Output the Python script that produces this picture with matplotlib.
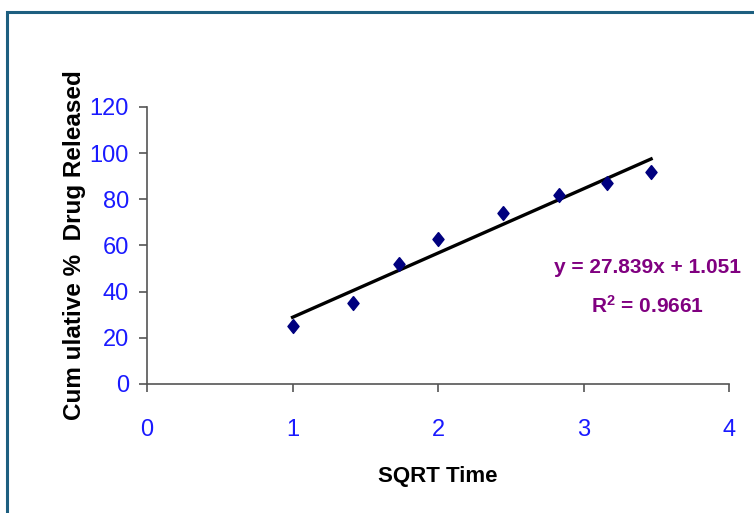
import numpy as np
import matplotlib.pyplot as plt
from matplotlib.patches import Rectangle

# square root of sampling time (h^0.5) and cumulative release (%)
sqrt_time = [1.0, 1.414, 1.732, 2.0, 2.449, 2.828, 3.162, 3.464]
released = [25, 35, 52, 63, 74, 82, 87, 92]

# linear trendline as reported
slope = 27.839
intercept = 1.051
r_squared = 0.9661

x_ticks = [0, 1, 2, 3, 4]
y_ticks = [0, 20, 40, 60, 80, 100, 120]

narrow = ['Liberation Sans Narrow', 'Liberation Sans', 'DejaVu Sans']

fig = plt.figure(figsize=(7.54, 5.13), dpi=100)
ax = fig.add_axes([0.195, 0.2515, 0.772, 0.54])

# outer chart frame (top and left edges visible)
fig.patches.append(Rectangle((7 / 754, -0.2), 1.2, 1.2 - 12 / 513,
                             transform=fig.transFigure, fill=False,
                             edgecolor='#1d5f80', linewidth=2.2))

diamond = [(0, 1), (0.8, 0), (0, -1), (-0.8, 0), (0, 1)]
ax.plot(sqrt_time, released, linestyle='none', marker=diamond,
        markersize=10, color='#00007f', zorder=3)

xfit = np.array([sqrt_time[0], sqrt_time[-1]])
ax.plot(xfit, slope * xfit + intercept, color='black', linewidth=2.4, zorder=2)

ax.set_xlim(0, 4)
ax.set_ylim(0, 120)
ax.set_xticks(x_ticks)
ax.set_yticks(y_ticks)
ax.set_xticklabels([str(t) for t in x_ticks], family=narrow, fontsize=17, color='#1a1aff')
ax.set_yticklabels([str(t) for t in y_ticks], family=narrow, fontsize=17, color='#1a1aff')
ax.tick_params(axis='x', direction='out', length=6, width=1.2, color='#555555', pad=19)
ax.tick_params(axis='y', direction='out', length=6, width=1.2, color='#555555', pad=7)

for side in ['top', 'right']:
    ax.spines[side].set_visible(False)
for side in ['left', 'bottom']:
    ax.spines[side].set_color('#555555')
    ax.spines[side].set_linewidth(1.2)

ax.set_xlabel('SQRT Time', family=narrow, fontsize=16, fontweight='bold', labelpad=18)
ax.set_ylabel('Cum ulative %  Drug Released', family=['Liberation Sans', 'DejaVu Sans'],
              fontsize=17.5, fontweight='bold', va='center')
ax.yaxis.set_label_coords(-0.125, 0.5)

ax.text(3.44, 50.5, 'y = %.3fx + %.3f' % (slope, intercept), family=narrow,
        fontsize=15, fontweight='bold', color='#800080', ha='center', va='center')
ax.text(3.44, 34, '$\\mathregular{R^2}$ = %.4f' % r_squared, family=narrow,
        fontsize=15, fontweight='bold', color='#800080', ha='center', va='center')

fig.savefig('out.png', dpi=100)
